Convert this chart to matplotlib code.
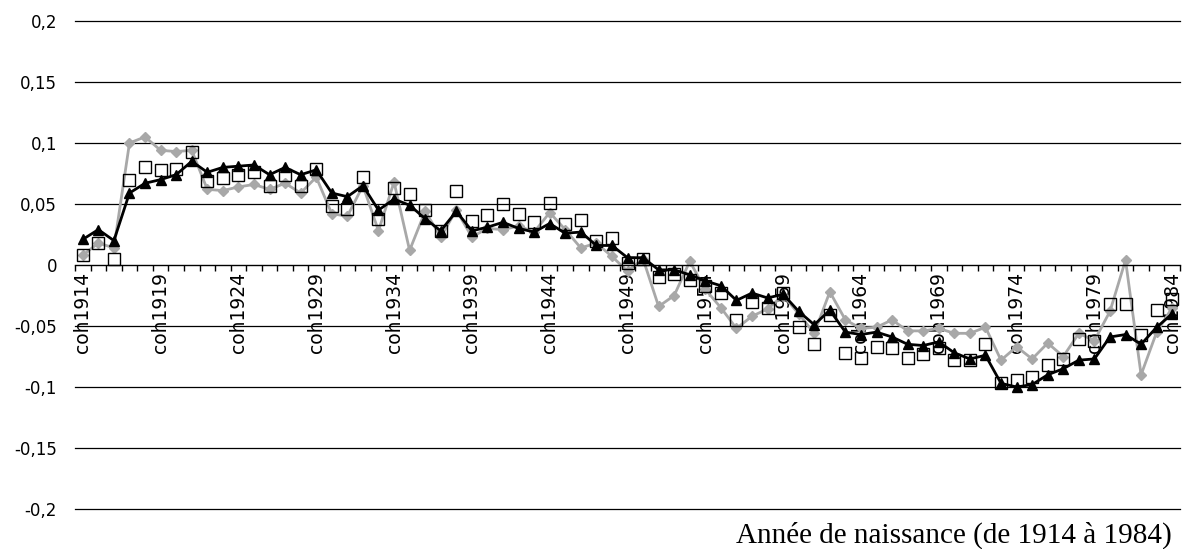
import matplotlib
matplotlib.use("Agg")
import matplotlib.pyplot as plt
from matplotlib.ticker import FixedLocator, FuncFormatter

years = list(range(1914, 1985))
cohorts = ["coh%d" % y for y in years]

serie_triangles = [
    0.021, 0.029, 0.020, 0.059, 0.067, 0.070, 0.074, 0.085, 0.076, 0.080,
    0.081, 0.082, 0.074, 0.080, 0.074, 0.078, 0.059, 0.056, 0.065, 0.045,
    0.054, 0.049, 0.038, 0.028, 0.044, 0.028, 0.031, 0.035, 0.030, 0.027,
    0.034, 0.026, 0.027, 0.016, 0.016, 0.006, 0.006, -0.004, -0.004, -0.008,
    -0.013, -0.017, -0.029, -0.023, -0.027, -0.024, -0.038, -0.049, -0.037, -0.055,
    -0.057, -0.055, -0.059, -0.065, -0.066, -0.063, -0.072, -0.077, -0.074, -0.097,
    -0.100, -0.098, -0.090, -0.085, -0.078, -0.077, -0.059, -0.057, -0.065, -0.051,
    -0.040,
]

serie_carres = [
    0.008, 0.018, 0.005, 0.070, 0.080, 0.078, 0.079, 0.093, 0.069, 0.071,
    0.074, 0.076, 0.065, 0.074, 0.065, 0.079, 0.048, 0.046, 0.072, 0.038,
    0.063, 0.058, 0.045, 0.028, 0.061, 0.036, 0.041, 0.050, 0.042, 0.035,
    0.051, 0.034, 0.037, 0.020, 0.022, 0.002, 0.005, -0.010, -0.007, -0.012,
    -0.017, -0.023, -0.045, -0.030, -0.035, -0.023, -0.051, -0.065, -0.041, -0.072,
    -0.076, -0.067, -0.068, -0.076, -0.073, -0.068, -0.078, -0.078, -0.065, -0.097,
    -0.094, -0.092, -0.082, -0.077, -0.061, -0.062, -0.032, -0.032, -0.057, -0.037,
    -0.028,
]

serie_grise = [
    0.008, 0.018, 0.014, 0.100, 0.105, 0.094, 0.093, 0.094, 0.062, 0.061,
    0.064, 0.066, 0.062, 0.067, 0.059, 0.072, 0.042, 0.040, 0.065, 0.028,
    0.068, 0.012, 0.044, 0.023, 0.045, 0.023, 0.030, 0.029, 0.032, 0.027,
    0.043, 0.029, 0.014, 0.018, 0.007, -0.005, 0.005, -0.034, -0.025, 0.003,
    -0.020, -0.035, -0.052, -0.042, -0.036, -0.025, -0.040, -0.056, -0.022, -0.045,
    -0.052, -0.051, -0.045, -0.054, -0.054, -0.052, -0.056, -0.056, -0.051, -0.078,
    -0.067, -0.077, -0.064, -0.075, -0.056, -0.062, -0.038, 0.004, -0.090, -0.055,
    -0.035,
]

y_ticks = [-0.2, -0.15, -0.1, -0.05, 0, 0.05, 0.1, 0.15, 0.2]

x = list(range(len(years)))

fig = plt.figure(figsize=(11.83, 5.49), dpi=100)
ax = fig.add_axes([75 / 1183, 40 / 549, 1105 / 1183, 488 / 549])

# grid lines (black, Excel style)
for v in y_ticks:
    if v != 0:
        ax.axhline(v, color="black", lw=0.9, zorder=1, clip_on=False)

ax.plot(x, serie_grise, color="#a8a8a8", lw=2.0, marker="D", markersize=5,
        markeredgecolor="#a8a8a8", zorder=2)
ax.plot(x, serie_triangles, color="black", lw=2.0, marker="^", markersize=7, zorder=3)
ax.plot(x, serie_carres, linestyle="none", marker="s", markersize=8,
        markerfacecolor="none", markeredgecolor="black", markeredgewidth=1.0, zorder=4)

ax.set_xlim(-0.5, len(years) - 0.5)
ax.set_ylim(-0.2, 0.2)

for s in ["left", "right", "top"]:
    ax.spines[s].set_visible(False)
ax.spines["bottom"].set_position(("data", 0))
ax.spines["bottom"].set_linewidth(1.0)

ax.set_yticks(y_ticks)
ax.yaxis.set_major_formatter(FuncFormatter(lambda v, p: ("%g" % round(v, 2)).replace(".", ",")))
ax.tick_params(axis="y", length=0, pad=13, labelsize=12)

ax.set_xticks(x[::5])
ax.set_xticklabels(cohorts[::5], rotation=90, fontsize=13.5)
ax.xaxis.set_minor_locator(FixedLocator([i - 0.5 for i in range(len(years) + 1)]))
ax.tick_params(axis="x", which="major", length=0, pad=5)
ax.tick_params(axis="x", which="minor", length=4, width=1.0, direction="out")

fig.text(1172 / 1183, 0.025, "Année de naissance (de 1914 à 1984)",
         ha="right", va="center", fontsize=21, family="Liberation Serif")

fig.savefig("out.png", dpi=100)
